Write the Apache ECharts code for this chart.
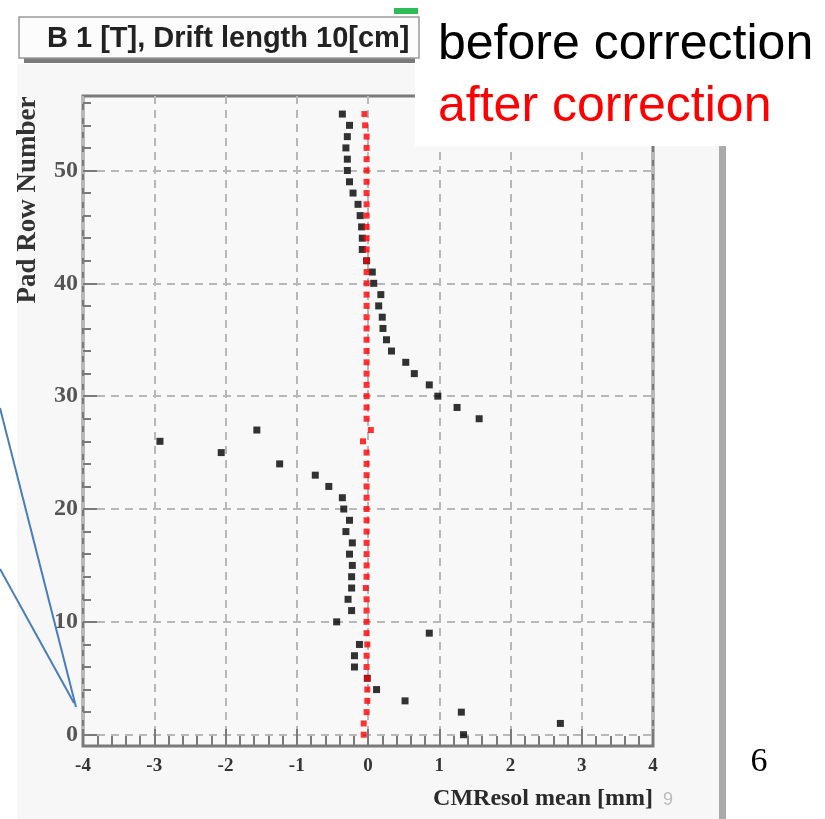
<!DOCTYPE html>
<html>
<head>
<meta charset="utf-8">
<script src="https://cdn.jsdelivr.net/npm/echarts@6/dist/echarts.min.js"></script>
<style>
  html, body { margin: 0; padding: 0; background: #fff; }
  #chart { width: 825px; height: 819px; }
</style>
</head>
<body>
<div id="chart"></div>
<script>
// pad row index (y) and mean residual in mm (x)
const padRows = [
  0, 1, 2, 3, 4, 5, 6, 7, 8, 9,
  10, 11, 12, 13, 14, 15, 16, 17, 18, 19,
  20, 21, 22, 23, 24, 25, 26, 27, 28, 29,
  30, 31, 32, 33, 34, 35, 36, 37, 38, 39,
  40, 41, 42, 43, 44, 45, 46, 47, 48, 49,
  50, 51, 52, 53, 54, 55
];
const beforeMean = [
  1.34, 2.70, 1.31, 0.52, 0.12, -0.01, -0.19, -0.19, -0.12, 0.86,
  -0.44, -0.23, -0.28, -0.23, -0.23, -0.22, -0.26, -0.22, -0.31, -0.26,
  -0.34, -0.36, -0.55, -0.74, -1.24, -2.06, -2.92, -1.56, 1.56, 1.25,
  0.98, 0.86, 0.65, 0.53, 0.33, 0.26, 0.21, 0.20, 0.15, 0.18,
  0.08, 0.06, -0.02, -0.08, -0.08, -0.09, -0.11, -0.14, -0.21, -0.26,
  -0.29, -0.29, -0.31, -0.29, -0.26, -0.36
];
const afterMean = [
  -0.06, -0.06, -0.02, -0.01, -0.01, -0.01, -0.02, -0.02, -0.01, -0.02,
  -0.02, -0.02, -0.02, -0.03, -0.02, -0.02, -0.02, -0.02, -0.02, -0.02,
  -0.02, -0.02, -0.02, -0.02, -0.02, -0.02, -0.07, 0.04, -0.02, -0.02,
  -0.02, -0.02, -0.02, -0.02, -0.02, -0.02, -0.02, -0.02, -0.02, -0.02,
  -0.02, -0.02, -0.02, -0.02, -0.02, -0.02, -0.02, -0.02, -0.02, -0.02,
  -0.02, -0.02, -0.02, -0.02, -0.04, -0.05
];
const yLabelTicks = [0, 10, 20, 30, 40, 50];
const yMinorTicks = [0, 2, 4, 6, 8, 10, 12, 14, 16, 18, 20, 22, 24, 26, 28,
  30, 32, 34, 36, 38, 40, 42, 44, 46, 48, 50, 52, 54, 56];

const frameColor = "#7a7a7a";
const gridDash = { color: "#b8b8b8", width: 2, type: [8, 6] };

const chart = echarts.init(document.getElementById("chart"), null, { renderer: "canvas" });

const option = {
  backgroundColor: "#f7f7f7",
  animation: false,
  grid: {
    left: 83,
    top: 96,
    right: 172,
    bottom: 73,
    show: true,
    backgroundColor: "#f8f8f8",
    borderColor: frameColor,
    borderWidth: 3,
  },
  xAxis: {
    type: "value",
    min: -4,
    max: 4,
    interval: 1,
    axisLine: { show: false, onZero: false },
    axisTick: { show: true, inside: true, length: 17, lineStyle: { color: frameColor, width: 2 } },
    minorTick: { show: true, splitNumber: 5, length: 10, lineStyle: { color: frameColor, width: 2 } },
    axisLabel: {
      margin: 11,
      fontFamily: "Liberation Serif",
      fontWeight: "bold",
      fontSize: 19,
      color: "#333",
    },
    splitLine: { show: true, lineStyle: gridDash },
    name: "CMResol mean [mm]",
    nameLocation: "end",
    nameGap: 0,
    nameTextStyle: {
      align: "right",
      verticalAlign: "top",
      padding: [41, 0, 0, 0],
      fontFamily: "Liberation Serif",
      fontWeight: "bold",
      fontSize: 24,
      color: "#2a2a2a",
    },
  },
  yAxis: [
    {
      type: "value",
      min: -1,
      max: 56.6,
      position: "left",
      axisLine: { show: false, onZero: false },
      axisTick: {
        show: true,
        inside: true,
        length: 8,
        customValues: yMinorTicks,
        lineStyle: { color: frameColor, width: 2 },
      },
      axisLabel: {
        customValues: yLabelTicks,
        margin: 5,
        fontFamily: "Liberation Serif",
        fontWeight: "bold",
        fontSize: 24,
        color: "#555",
      },
      splitLine: { show: false },
    },
    {
      type: "value",
      min: -1,
      max: 56.6,
      position: "left",
      axisLine: { show: false, onZero: false },
      axisTick: {
        show: true,
        inside: true,
        length: 14,
        customValues: yLabelTicks,
        lineStyle: { color: frameColor, width: 2 },
      },
      axisLabel: { show: false },
      splitLine: { show: true, lineStyle: gridDash },
    },
  ],
  series: [
    {
      name: "before correction",
      type: "scatter",
      symbol: "rect",
      symbolSize: 7,
      itemStyle: { color: "#000" },
      data: padRows.map((row, i) => [beforeMean[i], row]),
      z: 3,
    },
    {
      name: "after correction",
      type: "scatter",
      symbol: "rect",
      symbolSize: 6,
      itemStyle: { color: "#ff0000" },
      data: padRows.map((row, i) => [afterMean[i], row]),
      z: 4,
    },
  ],
  graphic: [
    // white slide areas around the ROOT canvas
    { type: "rect", z: 50, shape: { x: 0, y: 0, width: 825, height: 64 }, style: { fill: "#fff" } },
    { type: "rect", z: 50, shape: { x: 0, y: 0, width: 17, height: 819 }, style: { fill: "#fff" } },
    { type: "rect", z: 50, shape: { x: 719, y: 0, width: 106, height: 819 }, style: { fill: "#fff" } },
    { type: "rect", z: 50, shape: { x: 415, y: 0, width: 410, height: 146 }, style: { fill: "#fff" } },
    { type: "rect", z: 51, shape: { x: 719, y: 146, width: 7, height: 673 }, style: { fill: "#aaaaaa" } },
    // title box
    { type: "rect", z: 51, shape: { x: 24, y: 57, width: 391, height: 6 }, style: { fill: "#7a7a7a" } },
    { type: "rect", z: 52, shape: { x: 19, y: 17, width: 400, height: 41 }, style: { fill: "#fcfcfc", stroke: "#999", lineWidth: 1.5 } },
    {
      type: "text", z: 53, x: 47, y: 39,
      style: {
        text: "B 1 [T], Drift length 10[cm]",
        font: "bold 29px 'Liberation Sans', Arial, sans-serif",
        fill: "#222",
        verticalAlign: "middle",
      },
    },
    { type: "rect", z: 54, shape: { x: 394, y: 8, width: 24, height: 6 }, style: { fill: "#2dbb55" } },
    // legend text
    {
      type: "text", z: 55, x: 438, y: 45,
      style: { text: "before correction", font: "50px 'Liberation Sans', Arial, sans-serif", fill: "#000", verticalAlign: "middle" },
    },
    {
      type: "text", z: 55, x: 438, y: 107,
      style: { text: "after correction", font: "50px 'Liberation Sans', Arial, sans-serif", fill: "#ff0000", verticalAlign: "middle" },
    },
    // y axis title
    {
      type: "text", z: 55, x: 28, y: 200, rotation: Math.PI / 2,
      style: {
        text: "Pad Row Number",
        font: "bold 27px 'Liberation Serif', serif",
        fill: "#333",
        align: "center",
        verticalAlign: "middle",
      },
    },
    {
      type: "text", z: 55, x: 663, y: 800,
      style: { text: "9", font: "18px 'Liberation Sans', sans-serif", fill: "#bbb", verticalAlign: "middle" },
    },
    {
      type: "text", z: 55, x: 759, y: 762,
      style: { text: "6", font: "34px 'Liberation Serif', serif", fill: "#000", align: "center", verticalAlign: "middle" },
    },
    // arrows from slide content
    { type: "line", z: 56, shape: { x1: 0, y1: 408, x2: 76, y2: 707 }, style: { stroke: "#4a7ebb", lineWidth: 2 } },
    { type: "line", z: 56, shape: { x1: 0, y1: 569, x2: 74, y2: 703 }, style: { stroke: "#4a7ebb", lineWidth: 2 } },
  ],
};

chart.setOption(option);
</script>
</body>
</html>
